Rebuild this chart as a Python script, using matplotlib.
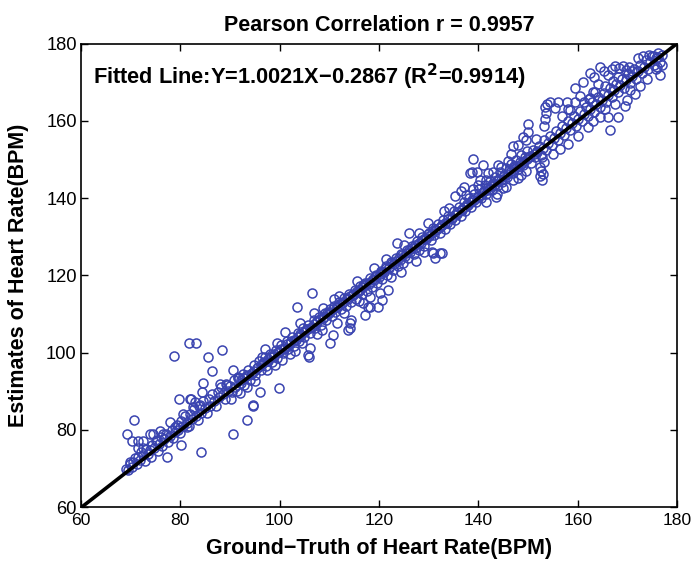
import numpy as np
import matplotlib
matplotlib.use("Agg")
import matplotlib.pyplot as plt

plt.rcParams['font.family'] = ['Liberation Sans', 'DejaVu Sans']

# fitted line coefficients and stats printed on the chart
slope = 1.0021
intercept = -0.2867
pearson_r = 0.9957
r_squared = 0.9914

band_70_90 = [
    (69.1, 70.0), (69.4, 69.6), (69.8, 71.2), (70.2, 70.5), (70.5, 71.8), (70.9, 72.6),
    (71.2, 71.1), (71.6, 73.0), (72.0, 72.2), (72.1, 74.3), (72.6, 73.4), (72.9, 71.9),
    (73.2, 75.0), (73.5, 73.8), (73.9, 74.9), (74.2, 73.1), (74.4, 76.2), (74.8, 75.3),
    (75.1, 77.0), (75.5, 74.6), (75.8, 76.4), (76.1, 78.1), (76.4, 75.8), (76.8, 77.6),
    (77.2, 79.0), (77.5, 76.9), (77.9, 78.4), (78.3, 80.1), (78.6, 78.0), (78.9, 79.5),
    (79.3, 81.2), (79.6, 80.0), (80.0, 79.3), (80.2, 82.4), (80.6, 81.0), (81.0, 83.5),
    (81.3, 81.9), (81.7, 80.9), (82.0, 84.2), (82.4, 82.7), (82.8, 85.3), (83.1, 83.6),
    (83.5, 82.6), (83.8, 86.1), (84.2, 84.5), (84.6, 87.4), (84.9, 85.6), (85.3, 84.4),
    (85.7, 88.0), (86.0, 86.3), (86.4, 89.2), (86.8, 87.6), (87.1, 86.2), (87.5, 89.9),
    (87.9, 88.4), (88.2, 91.1), (88.6, 89.3), (89.0, 88.1), (89.3, 91.9), (89.7, 90.2),
]
spread_70_90 = [
    (69.3, 78.9), (70.3, 77.1), (71.5, 77.1), (72.5, 77.1), (73.9, 78.9), (74.5, 78.9),
    (71.5, 75.3), (72.5, 75.3), (76.5, 78.9), (75.3, 77.4), (78.9, 80.7), (79.9, 80.7),
    (81.3, 80.7), (70.7, 82.6), (69.9, 71.7), (77.3, 73.0), (80.1, 76.1), (84.2, 74.3),
    (90.6, 78.9), (93.4, 82.6), (94.6, 86.2), (81.7, 102.5), (83.1, 102.5), (78.7, 99.1),
    (85.6, 98.9), (88.4, 100.7), (86.4, 95.3), (79.7, 88.0), (81.9, 88.0), (82.1, 88.0),
    (84.6, 92.1), (84.4, 89.8), (88.0, 91.9), (90.2, 88.0), (90.6, 95.4), (91.6, 93.7),
    (82.5, 86.0), (84.0, 86.4), (76.0, 79.8), (78.0, 82.0), (80.5, 84.0), (83.0, 87.2),
]
band_90_110 = [
    (90.1, 91.4), (90.4, 89.8), (90.8, 92.9), (91.1, 91.0), (91.5, 90.1), (91.8, 93.5),
    (92.2, 92.1), (92.6, 94.6), (92.9, 91.7), (93.3, 93.9), (93.7, 95.5), (94.0, 93.0),
    (94.4, 94.8), (94.8, 96.7), (95.1, 94.3), (95.5, 96.0), (95.9, 97.8), (96.2, 95.4),
    (96.6, 97.2), (97.0, 98.9), (97.3, 96.5), (97.7, 98.3), (98.1, 99.7), (98.4, 97.6),
    (98.8, 99.1), (99.2, 100.8), (99.5, 98.6), (99.9, 100.2), (100.3, 101.9), (100.6, 99.8),
    (101.0, 101.3), (101.4, 103.0), (101.7, 100.9), (102.1, 102.5), (102.5, 104.1), (102.8, 101.8),
    (103.2, 103.4), (103.6, 105.2), (103.9, 103.0), (104.3, 104.6), (104.7, 106.3), (105.0, 104.0),
    (105.4, 105.8), (105.8, 107.2), (106.1, 105.1), (106.5, 106.7), (106.9, 108.4), (107.2, 106.3),
    (107.6, 107.9), (108.0, 109.3), (108.3, 107.2), (108.7, 109.0), (109.1, 110.4), (109.4, 108.4),
    (109.8, 110.1),
]
spread_90_110 = [
    (92.0, 89.5), (93.5, 91.0), (95.0, 92.6), (96.0, 89.8), (97.5, 95.5), (99.0, 96.8),
    (99.9, 90.8), (94.6, 86.4), (100.5, 98.0), (102.0, 99.7), (103.0, 100.5), (104.5, 102.4),
    (105.9, 98.9), (106.1, 101.2), (105.7, 99.5), (107.5, 104.9), (108.5, 106.0), (110.1, 102.5),
    (110.7, 104.6), (101.1, 105.4), (97.0, 101.0), (103.5, 111.8), (106.5, 115.5), (89.4, 91.6),
    (91.6, 93.4), (96.5, 99.0), (99.5, 102.6), (104.0, 107.6), (107.0, 110.2), (108.8, 111.5),
]
band_110_130 = [
    (110.2, 111.3), (110.5, 109.5), (110.9, 112.0), (111.2, 110.6), (111.6, 111.9), (111.9, 113.1),
    (112.3, 111.2), (112.6, 112.9), (113.0, 114.2), (113.3, 112.0), (113.7, 113.8), (114.0, 115.3),
    (114.4, 113.1), (114.7, 114.9), (115.1, 116.2), (115.4, 114.0), (115.8, 115.7), (116.1, 117.3),
    (116.5, 115.2), (116.8, 116.9), (117.2, 118.1), (117.5, 116.0), (117.9, 117.7), (118.2, 119.3),
    (118.6, 117.1), (118.9, 118.8), (119.3, 120.2), (119.6, 118.0), (120.0, 119.7), (120.3, 121.2),
    (120.7, 119.1), (121.0, 120.8), (121.4, 122.4), (121.7, 120.2), (122.1, 121.9), (122.4, 123.5),
    (122.8, 121.3), (123.1, 122.9), (123.5, 124.5), (123.8, 122.4), (124.2, 124.0), (124.5, 125.6),
    (124.9, 123.3), (125.2, 125.0), (125.6, 126.7), (125.9, 124.4), (126.3, 126.1), (126.6, 127.5),
    (127.0, 125.5), (127.3, 127.2), (127.7, 128.8), (128.0, 126.6), (128.4, 128.3), (128.7, 129.9),
    (129.1, 127.7), (129.4, 129.4), (129.8, 130.8),
]
spread_110_130 = [
    (114.4, 108.5), (114.2, 106.4), (113.8, 105.9), (114.2, 107.7), (116.8, 112.9), (118.2, 111.8),
    (119.8, 111.8), (117.2, 109.8), (118.2, 114.4), (120.2, 115.5), (120.6, 113.7), (121.8, 116.2),
    (117.8, 111.8), (115.5, 118.5), (112.0, 114.8), (119.0, 122.0), (121.5, 124.3), (123.6, 128.4),
    (126.0, 131.0), (124.5, 121.0), (127.5, 123.8), (129.0, 126.2), (111.5, 107.8), (113.0, 110.2),
    (116.0, 113.4), (122.5, 119.6), (125.0, 127.8), (128.0, 131.0), (129.9, 133.6), (111.0, 113.8),
]
band_130_150 = [
    (130.1, 131.0), (130.4, 129.1), (130.8, 132.3), (131.1, 130.5), (131.5, 131.7), (131.8, 133.2),
    (132.2, 130.9), (132.5, 132.8), (132.9, 134.4), (133.2, 132.1), (133.6, 133.7), (133.9, 135.5),
    (134.3, 133.3), (134.6, 134.9), (135.0, 136.6), (135.3, 134.3), (135.7, 136.0), (136.0, 137.8),
    (136.4, 135.5), (136.7, 137.2), (137.1, 138.9), (137.4, 136.6), (137.8, 138.4), (138.1, 140.0),
    (138.5, 137.7), (138.8, 139.5), (139.2, 141.2), (139.5, 138.9), (139.9, 140.6), (140.2, 142.3),
    (140.6, 140.0), (140.9, 141.7), (141.3, 143.3), (141.6, 141.0), (142.0, 142.8), (142.3, 144.4),
    (142.7, 142.1), (143.0, 143.9), (143.4, 145.5), (143.7, 143.2), (144.1, 145.0), (144.4, 146.7),
    (144.8, 144.3), (145.1, 146.1), (145.5, 147.7), (145.8, 145.4), (146.2, 147.3), (146.5, 148.9),
    (146.9, 146.6), (147.2, 148.4), (147.6, 150.0), (147.9, 147.6), (148.3, 149.5), (148.6, 151.1),
    (149.0, 148.7), (149.3, 150.6), (149.7, 152.3),
]
spread_130_150 = [
    (130.9, 125.8), (131.3, 124.5), (132.3, 125.8), (130.7, 126.1), (132.7, 125.8), (138.7, 146.8),
    (139.7, 146.8), (141.0, 148.6), (140.3, 144.8), (138.9, 150.2), (138.3, 146.6), (136.5, 141.8),
    (135.2, 140.5), (137.2, 143.0), (142.0, 146.5), (143.5, 140.2), (145.0, 142.6), (147.0, 144.8),
    (148.5, 146.0), (150.0, 159.3), (150.0, 157.2), (149.5, 155.0), (148.0, 153.8), (146.5, 151.5),
    (134.0, 137.5), (133.0, 136.8), (144.0, 148.5), (147.0, 153.5), (149.0, 155.8), (141.5, 139.0),
    (140.0, 143.5), (141.5, 144.8), (143.0, 146.8), (144.5, 148.0), (146.0, 149.6), (139.0, 142.5),
    (137.5, 140.8), (145.5, 143.0), (143.8, 141.2), (148.0, 145.2), (149.5, 147.0),
]
fill_92_125 = [
    (92.3, 93.0), (92.9, 93.4), (93.6, 94.1), (94.2, 94.5), (94.9, 95.3), (95.6, 96.4),
    (96.3, 96.8), (96.9, 97.7), (97.6, 97.9), (98.2, 98.9), (98.9, 99.6), (99.6, 100.1),
    (100.2, 100.9), (100.9, 101.0), (101.5, 102.2), (102.3, 102.9), (102.9, 103.4), (103.6, 104.1),
    (104.2, 104.9), (104.9, 105.3), (105.6, 106.1), (106.2, 106.5), (106.9, 107.4), (107.5, 108.1),
    (108.2, 108.6), (108.9, 109.3), (109.5, 110.2), (110.2, 110.5), (110.8, 111.3), (111.5, 112.1),
    (112.2, 112.6), (112.8, 113.2), (113.5, 114.1), (114.1, 114.6), (114.8, 115.3), (115.5, 115.9),
    (116.1, 116.3), (116.8, 117.4), (117.4, 117.9), (118.1, 118.4), (118.8, 119.2), (119.4, 119.9),
    (120.1, 120.4), (120.7, 121.0), (121.4, 121.9), (122.1, 122.3), (122.7, 123.2), (123.4, 123.7),
    (124.0, 124.4), (124.7, 125.2),
]
fill_125_152 = [
    (125.4, 125.7), (126.0, 126.6), (126.7, 127.0), (127.3, 127.8), (128.0, 128.3), (128.7, 129.1),
    (129.3, 129.8), (130.0, 130.2), (130.6, 131.0), (131.3, 131.8), (132.0, 132.3), (132.6, 133.1),
    (133.3, 133.6), (133.9, 134.5), (134.6, 134.9), (135.3, 135.7), (135.9, 136.5), (136.6, 136.9),
    (137.2, 137.8), (137.9, 138.3), (138.6, 139.1), (139.2, 139.6), (139.9, 140.4), (140.5, 140.9),
    (141.2, 141.8), (141.9, 142.2), (142.5, 143.1), (143.2, 143.5), (143.8, 144.4), (144.5, 144.8),
    (145.2, 145.7), (145.8, 146.3), (146.5, 147.0), (147.1, 147.5), (147.8, 148.4), (148.5, 148.8),
    (149.1, 149.7), (149.8, 150.1), (150.4, 151.0), (151.1, 151.5), (151.7, 152.3),
]
band_150_178 = [
    (150.1, 150.8), (150.5, 149.2), (150.9, 152.5), (151.3, 150.6), (151.7, 152.0), (152.1, 153.6),
    (152.5, 151.3), (152.9, 153.0), (153.3, 155.0), (153.7, 152.6), (154.1, 154.3), (154.5, 156.2),
    (154.9, 153.9), (155.3, 155.6), (155.7, 157.4), (156.1, 155.0), (156.5, 156.9), (156.9, 158.6),
    (157.3, 156.3), (157.7, 158.2), (158.1, 160.0), (158.5, 157.6), (158.9, 159.4), (159.3, 161.2),
    (159.7, 158.7), (160.1, 160.6), (160.5, 162.5), (160.9, 160.0), (161.3, 161.9), (161.7, 163.6),
    (162.1, 161.2), (162.5, 163.0), (162.9, 164.9), (163.3, 162.4), (163.7, 164.3), (164.1, 166.1),
    (164.5, 163.6), (164.9, 165.5), (165.3, 167.3), (165.7, 164.9), (166.1, 166.8), (166.5, 168.5),
    (166.9, 166.1), (167.3, 168.0), (167.7, 169.7), (168.1, 167.4), (168.5, 169.2), (168.9, 171.0),
    (169.3, 168.6), (169.7, 170.5), (170.1, 172.1), (170.5, 169.8), (170.9, 171.6), (171.3, 173.4),
    (171.7, 171.0), (172.1, 172.9), (172.5, 174.5), (172.9, 172.3), (173.3, 174.1), (173.7, 175.8),
    (174.1, 173.5), (174.5, 175.3), (174.9, 176.8), (175.3, 174.6), (175.7, 176.3), (176.1, 177.5),
    (176.5, 175.4), (176.9, 177.0),
]
spread_150_178 = [
    (152.4, 148.2), (152.6, 147.0), (152.4, 145.8), (152.7, 144.8), (153.0, 146.3), (153.2, 149.5),
    (152.8, 150.8), (153.4, 160.5), (153.6, 162.0), (153.4, 163.5), (153.8, 164.5), (153.2, 158.8),
    (154.4, 165.0), (156.0, 165.0), (157.8, 165.0), (159.5, 165.0), (161.2, 165.0), (162.2, 165.6),
    (155.5, 163.4), (158.5, 162.8), (160.5, 166.5), (163.1, 167.6), (162.5, 166.0), (162.5, 172.5),
    (163.3, 171.5), (164.5, 174.0), (165.2, 172.9), (166.0, 171.8), (166.8, 173.5), (167.5, 174.2),
    (168.3, 173.6), (169.0, 174.2), (169.7, 173.3), (170.4, 174.1), (171.0, 173.0), (164.0, 169.5),
    (165.5, 169.0), (167.0, 170.4), (159.5, 168.6), (161.0, 170.2), (163.5, 167.6), (168.0, 171.5),
    (172.1, 176.4), (173.2, 176.9), (174.3, 177.2), (175.3, 176.8), (176.2, 176.5), (176.6, 172.0),
    (175.8, 173.4), (177.0, 174.6), (164.5, 161.0), (166.0, 161.0), (168.0, 161.0), (166.5, 157.7),
    (169.5, 163.8), (170.0, 165.5), (171.5, 167.0), (172.5, 169.0), (158.0, 154.0), (160.0, 156.0),
    (162.0, 158.5), (163.0, 160.0), (156.5, 152.7), (155.0, 151.5), (174.0, 171.0), (165.5, 163.0),
    (167.5, 164.5), (170.5, 168.0), (176.0, 174.0), (156.8, 161.2), (158.0, 163.0), (151.5, 155.4),
]

groups = [band_70_90, spread_70_90, band_90_110, spread_90_110, band_110_130,
          spread_110_130, band_130_150, spread_130_150, fill_92_125, fill_125_152,
          band_150_178, spread_150_178]
points = np.array([p for g in groups for p in g])
ground_truth = points[:, 0]
estimates = points[:, 1]

fig = plt.figure(figsize=(6.91, 5.61), dpi=100)
ax = fig.add_axes([0.117, 0.096, 0.863, 0.826])

ax.plot(ground_truth, estimates, 'o', mfc='none', mec='#3a44b0', ms=6.5, mew=1.1)

fit_x = np.array([60, 180])
ax.plot(fit_x, slope * fit_x + intercept, color='black', lw=2.6)

ax.set_xlim(60, 180)
ax.set_ylim(60, 180)
ax.set_xticks(range(60, 181, 20))
ax.set_yticks(range(60, 181, 20))
ax.tick_params(direction='in', top=True, right=True, length=5, width=1)
ax.tick_params(axis='x', pad=4, labelsize=12.6)
ax.tick_params(axis='y', pad=3, labelsize=13.2)
for s in ax.spines.values():
    s.set_linewidth(1.2)

ax.set_title('Pearson Correlation r = %.4f' % pearson_r, fontsize=15.5,
             fontweight='bold', pad=9)
ax.set_xlabel('Ground\u2212Truth of Heart Rate(BPM)', fontsize=15.5,
              fontweight='bold')
ax.set_ylabel('Estimates of Heart Rate(BPM)', fontsize=15.5,
              fontweight='bold')
ax.xaxis.set_label_coords(0.5, -0.066)
ax.yaxis.set_label_coords(-0.087, 0.5)

ax.text(62.4, 171.3, 'Fitted Line:Y=%.4fX\u2212%.4f (R$^{\\mathbf{2}}$=%.4f)'
        % (slope, -intercept, r_squared),
        fontsize=15.7, fontweight='bold', va='center', ha='left')

fig.savefig('out.png', dpi=100)
